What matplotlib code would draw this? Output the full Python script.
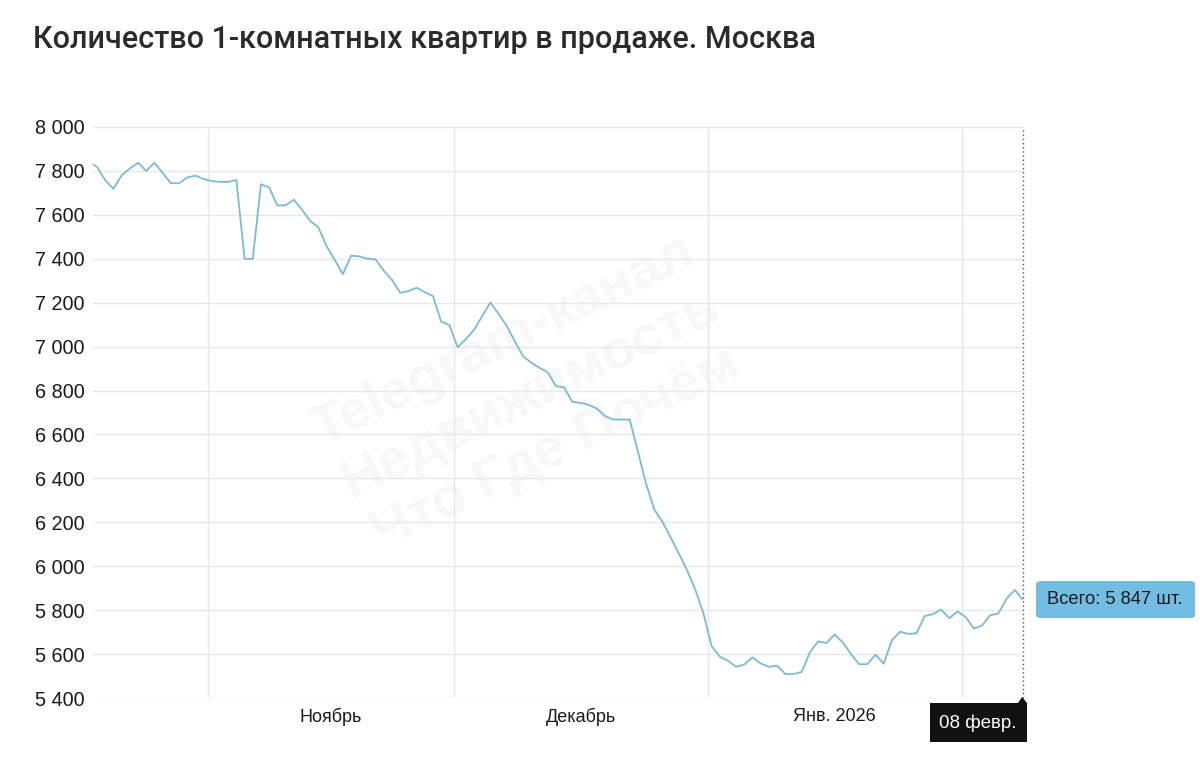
import matplotlib
matplotlib.use("Agg")
import matplotlib.pyplot as plt
import matplotlib.dates as mdates
import matplotlib.ticker as mticker
from matplotlib.patches import Rectangle, FancyBboxPatch, Polygon
import pandas as pd
import datetime as dt

title = "Количество 1-комнатных квартир в продаже. Москва"
start_date = "2025-10-17 12:00"
values = [7842,
          7818, 7757, 7719, 7780, 7811, 7837, 7800, 7837, 7791, 7744,
          7744, 7770, 7779, 7763, 7754, 7750, 7750, 7759, 7400, 7400,
          7739, 7725, 7643, 7643, 7669, 7624, 7572, 7544, 7458,
          7395, 7330, 7414, 7411, 7400, 7397, 7345, 7303, 7245, 7253,
          7268, 7248, 7230, 7113, 7098, 6997, 7034, 7076, 7139, 7201,
          7149, 7094, 7023, 6955, 6927, 6903, 6883,
          6820, 6814, 6748, 6744, 6735, 6718, 6683, 6668, 6668, 6668,
          6522, 6376, 6258, 6202, 6131, 6058, 5982, 5894, 5785, 5636,
          5588, 5569, 5542, 5553, 5585, 5557, 5542, 5547, 5509, 5509,
          5519, 5608, 5658, 5650, 5689, 5653, 5601, 5554, 5554, 5597,
          5556, 5663, 5702, 5692, 5695, 5773, 5782, 5803, 5763, 5794,
          5769, 5716, 5730, 5777, 5785, 5853, 5892, 5847]
dates = pd.date_range(start_date, periods=len(values), freq="D")

month_starts = ["2025-11-01", "2025-12-01", "2026-01-01", "2026-02-01"]
month_labels = ["Ноябрь", "Декабрь", "Янв. 2026"]
y_ticks = list(range(5400, 8001, 200))
tooltip_text = "Всего: 5 847 шт."
date_label = "08 февр."
watermark = "Telegram-канал\nНедвижимость\nЧто Где Почём"

plt.rcParams['font.family'] = ['Liberation Sans', 'DejaVu Sans']

W, H = 1200, 762
fig = plt.figure(figsize=(W / 100, H / 100), dpi=100)
L, R, T, B = 93, 1023, 127, 698
ax = fig.add_axes([L / W, 1 - B / H, (R - L) / W, (B - T) / H])

ax.plot(dates, values, color="#7dbad6", lw=1.3, zorder=3, solid_joinstyle="round")

ax.set_xlim(pd.Timestamp("2025-10-18 00:00"), dates[-1])
ax.set_ylim(5400, 8000)

ms = [pd.Timestamp(m) for m in month_starts]
ax.set_xticks(ms)
ax.set_xticklabels([])
mids = [ms[i] + (ms[i + 1] - ms[i]) / 2 for i in range(len(month_labels))]
ax.set_xticks(mids, minor=True)
ax.set_xticklabels(month_labels, minor=True)
ax.tick_params(axis="x", which="both", length=0, pad=7, labelsize=13, labelcolor="#1a1a1a")

ax.set_yticks(y_ticks)
ax.yaxis.set_major_formatter(mticker.FuncFormatter(lambda v, p: f"{int(v):,}".replace(",", " ")))
ax.tick_params(axis="y", length=0, pad=6, labelsize=14.3, labelcolor="#1a1a1a")

ax.grid(True, which="major", color="#e8e8e8", lw=1)
for s in ax.spines.values():
    s.set_visible(False)

# crosshair
ax.axvline(dates[-1], color="#555555", lw=1, ls=(0, (1, 2)), zorder=4, clip_on=False)

# watermark
ax.text(0.47, 0.53, watermark, transform=ax.transAxes, rotation=26, ha="center", va="center",
        fontsize=40, fontweight="bold", color="#000000", alpha=0.03, linespacing=1.2,
        multialignment="center", zorder=1)

# title
fig.text(33 / W, 1 - 40 / H, title, fontsize=22, color="#2b2b2b", ha="left", va="center",
         family=["Roboto", "DejaVu Sans"], fontweight="medium")

# tooltip
tb = FancyBboxPatch((1036 / W, 1 - 618 / H), 159 / W, 37 / H,
                    boxstyle="round,pad=0,rounding_size=0.004", transform=fig.transFigure,
                    facecolor="#74bde2", edgecolor="none")
fig.patches.append(tb)
fig.text(1115 / W, 1 - 600 / H, tooltip_text, fontsize=13.2, color="#1a1a1a", ha="center", va="center")

# date box
db = Rectangle((930 / W, 1 - 742 / H), 97 / W, 39 / H, transform=fig.transFigure,
               facecolor="#111111", edgecolor="none")
fig.patches.append(db)
tri = Polygon([(1018 / W, 1 - 703 / H), (1027 / W, 1 - 703 / H), (1022 / W, 1 - 697 / H)],
              closed=True, transform=fig.transFigure, facecolor="#111111", edgecolor="none")
fig.patches.append(tri)
fig.text(978 / W, 1 - 723 / H, date_label, fontsize=13.5, color="white", ha="center", va="center")

fig.savefig("out.png", dpi=100, facecolor="white")
